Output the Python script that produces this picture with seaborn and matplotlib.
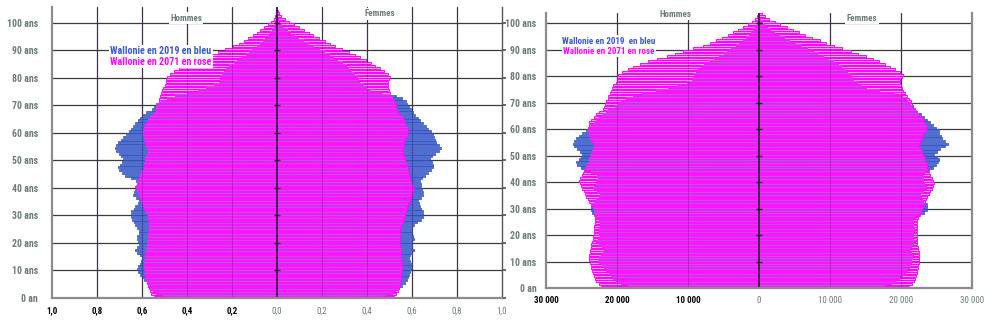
import numpy as np
import pandas as pd
import matplotlib
matplotlib.use("Agg")
import matplotlib.pyplot as plt
from matplotlib import font_manager as fm
import seaborn as sns

# ---------------- data (persons per single year of age, Wallonia) ----------------
AGES = list(range(0, 105))

MEN_2019 = [18400, 19500, 20100, 20600, 20900, 21100, 21500, 21900, 22100, 22500,
            22700, 22500, 22200, 22000, 21900, 22100, 22600, 23000, 22700, 22400,
            22500, 22700, 22600, 22400, 22400, 22600, 22900, 23200, 23500, 23700,
            23700, 23600, 23200, 22900, 22500, 22400, 22800, 23300, 23200, 23000,
            22900, 22700, 22800, 23600, 24600, 25100, 25600, 25800, 25400, 25100,
            24900, 25200, 25600, 26000, 26200, 26100, 25800, 25300, 24900, 24400,
            24000, 23700, 23300, 23000, 22500, 22100, 21600, 21200, 20300, 19900,
            19500, 18800, 17800, 16500, 14500, 12800, 11500, 10200, 9400, 9300,
            9200, 8900, 8600, 8200, 7700, 7000, 6400, 5700, 5000, 4500,
            4000, 3300, 2800, 2300, 1900, 1450, 1100, 800, 550, 350,
            250, 150, 80, 40, 15]

WOMEN_2019 = [17700, 18700, 19300, 19800, 20300, 20700, 21000, 21200, 21400, 21500,
              21600, 21700, 21800, 21500, 21300, 21500, 21900, 22100, 21900, 21800,
              21900, 22100, 22000, 21800, 21800, 21900, 22100, 22700, 23300, 23700,
              23700, 23600, 23300, 23100, 22900, 22800, 23300, 23700, 23600, 23400,
              23300, 23300, 23200, 23400, 24000, 24500, 24900, 25200, 25300, 25000,
              24700, 25100, 25500, 26200, 26600, 26200, 25800, 25600, 25400, 25300,
              24900, 24500, 24100, 23700, 23200, 22800, 22300, 22000, 21700, 21400,
              21000, 20900, 20300, 19200, 17000, 15200, 14500, 14000, 13400, 13300,
              13100, 12600, 12100, 11700, 11300, 10600, 9900, 9200, 8500, 7700,
              6900, 6000, 5200, 4400, 3600, 2900, 2300, 1700, 1200, 800,
              500, 300, 150, 70, 30]

MEN_2071 = [22200, 22600, 22900, 23100, 23300, 23400, 23500, 23600, 23700, 23800,
            23900, 23900, 23900, 23800, 23800, 23700, 23600, 23500, 23400, 23400,
            23300, 23300, 23200, 23200, 23100, 23100, 23100, 23100, 23200, 23300,
            23400, 23600, 23900, 24100, 24300, 24500, 24700, 24900, 25100, 25200,
            25300, 25200, 25000, 24800, 24600, 24400, 24200, 24000, 23900, 23800,
            23700, 23500, 23300, 23300, 23400, 23600, 23800, 23900, 24000, 24100,
            24100, 24000, 23900, 23600, 23300, 22900, 22500, 22000, 21800, 21700,
            21500, 21300, 21200, 21000, 20800, 20700, 20500, 20200, 20000, 20000,
            19800, 19300, 18500, 17700, 16800, 15600, 14300, 13000, 11800, 10700,
            9300, 7900, 6900, 6000, 5200, 4400, 3600, 3000, 2300, 1600,
            1000, 600, 350, 180, 80]

WOMEN_2071 = [21100, 21500, 21800, 22000, 22100, 22200, 22300, 22400, 22400, 22500,
              22500, 22500, 22500, 22500, 22400, 22400, 22300, 22300, 22200, 22200,
              22200, 22200, 22200, 22200, 22200, 22300, 22400, 22600, 22800, 23000,
              23100, 23200, 23400, 23500, 23700, 23900, 24100, 24300, 24500, 24600,
              24500, 24300, 24100, 23900, 23800, 23700, 23600, 23500, 23400, 23300,
              23100, 22900, 22700, 22600, 22700, 22800, 22900, 23100, 23300, 23500,
              23600, 23500, 23300, 23100, 22900, 22600, 22200, 21800, 21600, 21500,
              21400, 21100, 20800, 20500, 20300, 20100, 20000, 19900, 19900, 20100,
              20300, 19900, 19200, 18500, 17700, 16900, 16000, 15000, 14000, 12900,
              11700, 10500, 9500, 8600, 7500, 6500, 5700, 4800, 4000, 3000,
              2200, 1400, 800, 400, 150]

TOTAL_2019 = 3_640_000   # total population used as denominator of the % chart
TOTAL_2071 = 4_050_000

AGE_TICKS = list(range(0, 101, 10))
AGE_LABELS = ["0 an"] + [f"{a} ans" for a in range(10, 101, 10)]
PCT_TICKS = [-1.0, -0.8, -0.6, -0.4, -0.2, 0.0, 0.2, 0.4, 0.6, 0.8, 1.0]
PCT_LABELS = ["1,0", "0,8", "0,6", "0,4", "0,2", "0,0", "0,2", "0,4", "0,6", "0,8", "1,0"]
ABS_TICKS = [-30000, -20000, -10000, 0, 10000, 20000, 30000]
ABS_LABELS = ["30 000", "20 000", "10 000", "0", "10 000", "20 000", "30 000"]

# ---------------- style ----------------
sns.set_theme(style="white")
_have = {f.name for f in fm.fontManager.ttflist}
_pref = ["Liberation Sans Narrow", "Arial Narrow", "Roboto Condensed",
         "Archivo Narrow", "Asap Condensed", "Barlow Semi Condensed"]
_narrow = [n for n in _pref if n in _have][:1]
plt.rcParams["font.family"] = _narrow + ["DejaVu Sans"]

BLUE_FACE = "#4f6fd3"
BLUE_EDGE = "#2f4fbf"
PINK_FACE = "#f7a8f7"
PINK_EDGE = "#ff00ff"
MIX_LINE = "#b45ae0"
MIX_FACE = "#ff14ff"
GRID = "#3c3c3c"
FRAME = "#8c8c8c"
LABEL_GREY = "#6b7b7b"

fig = plt.figure(figsize=(10, 3.35), dpi=100)
ax1 = fig.add_axes([0.052, 1 - 298 / 335, 0.450, 291 / 335])
ax2 = fig.add_axes([0.546, 1 - 288 / 335, 0.426, 275 / 335])

pos = np.array(AGES) + 0.5


def bars(ax, values, face, edge, lw, height, z):
    df = pd.DataFrame({"v": values, "age": pos})
    sns.barplot(data=df, x="v", y="age", orient="h", native_scale=True,
                width=height, color=face, saturation=1, edgecolor=edge,
                linewidth=lw, errorbar=None, ax=ax, zorder=z)


def pyramid(ax, m19, f19, m71, f71, xlim, ytop, ticks, labels):
    m19, f19, m71, f71 = map(np.asarray, (m19, f19, m71, f71))
    for sign, a, b in ((-1, m19, m71), (1, f19, f71)):
        bars(ax, sign * a, BLUE_FACE, BLUE_EDGE, 0.5, 0.8, 2)
        bars(ax, sign * b, PINK_FACE, PINK_EDGE, 0.7, 0.76, 3)
        ov = np.minimum(a, b)
        bars(ax, sign * ov, MIX_LINE, "none", 0, 1.0, 4)
        bars(ax, sign * ov, MIX_FACE, "none", 0, 0.72, 5)

    ax.set_xlim(*xlim)
    ax.set_ylim(0, ytop)
    ax.set_xlabel("")
    ax.set_ylabel("")

    for a in AGE_TICKS[1:]:
        ax.axhline(a, color=GRID, lw=0.9, zorder=1)
    for t in ticks:
        if t != 0 and abs(t) != abs(ticks[0]):
            ax.axvline(t, color=GRID, lw=0.9, zorder=1)
            ax.axvline(t, color="#5a1a70", lw=0.7, alpha=0.35, zorder=6)
    ax.axvline(0, color="#4a1a5a", lw=1.4, zorder=7)
    ax.plot(np.zeros(len(AGE_TICKS)), AGE_TICKS, ls="none", marker="_",
            ms=5, mew=1, color="#222222", zorder=8)

    ax.set_yticks(AGE_TICKS)
    ax.set_yticklabels(AGE_LABELS)
    ax.set_xticks(ticks)
    ax.set_xticklabels(labels)
    ax.tick_params(axis="y", length=0, pad=7, labelsize=7, labelcolor=LABEL_GREY)
    ax.tick_params(axis="x", length=0, pad=6, labelsize=6.5)
    for lab in ax.get_yticklabels():
        lab.set_fontweight("bold")
    for t, lab in zip(ticks, ax.get_xticklabels()):
        if t < 0:
            lab.set_color("black")
            lab.set_fontweight("bold")
        else:
            lab.set_color(LABEL_GREY)
    for s in ("left", "bottom", "right"):
        ax.spines[s].set_color(FRAME)
        ax.spines[s].set_linewidth(1.6)
        ax.spines[s].set_zorder(9)
    ax.spines["top"].set_visible(False)


# left: share of total population (%)
pct = lambda arr, tot: np.asarray(arr) / tot * 100
pyramid(ax1, pct(MEN_2019, TOTAL_2019), pct(WOMEN_2019, TOTAL_2019),
        pct(MEN_2071, TOTAL_2071), pct(WOMEN_2071, TOTAL_2071),
        (-1.0, 1.0), 105.8, PCT_TICKS, PCT_LABELS)
ax1.spines["right"].set_color("#555555")
ax1.spines["right"].set_linewidth(1.0)
ax1.tick_params(axis="y", which="both", left=False, right=True, direction="out",
                length=3, color="#555555", labelleft=True, labelright=False)
for lab in ax1.get_yticklabels():
    lab.set_fontweight("bold")

# right: absolute numbers
pyramid(ax2, MEN_2019, WOMEN_2019, MEN_2071, WOMEN_2071,
        (-30000, 30000), 103.8, ABS_TICKS, ABS_LABELS)

box = dict(fc="white", ec="none", pad=1.0)
hdr = dict(fontsize=6.5, color=LABEL_GREY, fontweight="bold", ha="center",
           va="center", bbox=box, zorder=10)
ax1.text(-0.404, 101.8, "Hommes", **hdr)
ax1.text(0.458, 103.3, "Femmes", **hdr)
ax2.text(-11830, 103.4, "Hommes", **hdr)
ax2.text(14500, 101.9, "Femmes", **hdr)

leg = dict(fontweight="bold", ha="left", va="center", bbox=box, zorder=10)
ax1.text(-0.742, 89.8, "Wallonie en 2019 en bleu", fontsize=7.2, color="#3a5acd", **leg)
ax1.text(-0.742, 85.8, "Wallonie en 2071 en rose", fontsize=7.2, color="#ff00ff", **leg)
ax2.text(-27740, 93.2, "Wallonie en 2019  en bleu", fontsize=6.5, color="#3a5acd", **leg)
ax2.text(-27600, 89.4, "Wallonie en 2071 en rose", fontsize=6.5, color="#ff00ff", **leg)

fig.savefig("out.png", dpi=100, facecolor="white")
